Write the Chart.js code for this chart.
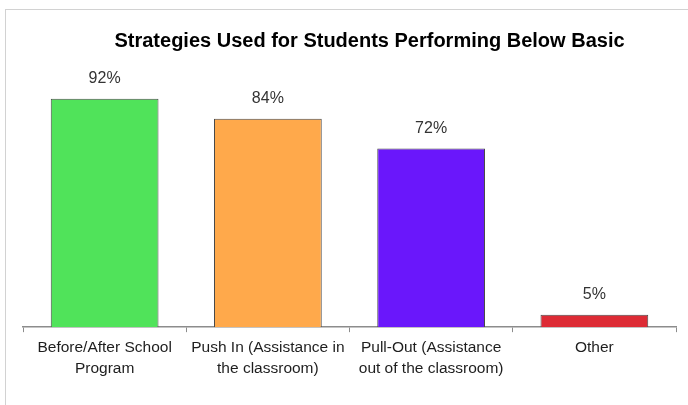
<!DOCTYPE html>
<html>
<head>
<meta charset="utf-8">
<script src="https://cdn.jsdelivr.net/npm/chart.js@4/dist/chart.umd.min.js"></script>
<style>
  html, body { margin: 0; padding: 0; background: #ffffff; overflow: hidden; }
  #wrap { position: relative; width: 688px; height: 405px; }
  #frame { position: absolute; left: 5px; top: 9px; width: 720px; height: 440px;
           border: 1px solid #d2d2d2; box-sizing: border-box; }
  #chart { position: absolute; left: 0; top: 0; }
</style>
</head>
<body>
<div id="wrap">
  <div id="frame"></div>
  <canvas id="chart" width="688" height="405"></canvas>
</div>
<script>
// Survey results: share of schools using each strategy
const chartTitle = 'Strategies Used for Students Performing Below Basic';
const categories = [
  ['Before/After School', 'Program'],
  ['Push In (Assistance in', 'the classroom)'],
  ['Pull-Out (Assistance', 'out of the classroom)'],
  'Other'
];
const percentUsed = [92, 84, 72, 5];
const barColors = ['#50e35a', '#ffa94b', '#6a17fb', '#dd2b35'];

const FONT = '"Liberation Sans", Arial, sans-serif';

// Title and value labels drawn on top of the chart
const annotate = {
  id: 'annotate',
  afterDatasetsDraw(chart) {
    const ctx = chart.ctx;
    ctx.save();
    // value above each bar
    ctx.font = '16px ' + FONT;
    ctx.fillStyle = '#333333';
    ctx.textAlign = 'center';
    ctx.textBaseline = 'middle';
    const meta = chart.getDatasetMeta(0);
    meta.data.forEach((bar, i) => {
      ctx.fillText(percentUsed[i] + '%', bar.x, bar.y - 20);
    });
    // chart title
    ctx.font = 'bold 20px ' + FONT;
    ctx.fillStyle = '#000000';
    const area = chart.chartArea;
    ctx.fillText(chartTitle, (area.left + area.right) / 2 + 20, 41);
    ctx.restore();
  }
};

new Chart(document.getElementById('chart'), {
  type: 'bar',
  data: {
    labels: categories,
    datasets: [{
      data: percentUsed,
      backgroundColor: barColors,
      borderColor: '#4a4a4a',
      borderWidth: 1,
      barPercentage: 0.66,
      categoryPercentage: 1.0
    }]
  },
  options: {
    responsive: false,
    animation: false,
    layout: { padding: { left: 23, right: 12, top: 79, bottom: 21 } },
    plugins: {
      legend: { display: false },
      title: { display: false },
      tooltip: { enabled: false }
    },
    scales: {
      y: {
        display: false,
        min: 0,
        max: 100
      },
      x: {
        offset: true,
        border: { display: true, color: '#8c8c8c', width: 1.5 },
        grid: {
          offset: true,
          drawOnChartArea: false,
          drawTicks: true,
          tickLength: 5,
          color: '#8c8c8c'
        },
        ticks: {
          color: '#1e1e1e',
          padding: 5,
          maxRotation: 0,
          autoSkip: false,
          font: { family: FONT, size: 15.5, lineHeight: 1.35 }
        }
      }
    }
  },
  plugins: [annotate]
});
</script>
</body>
</html>
